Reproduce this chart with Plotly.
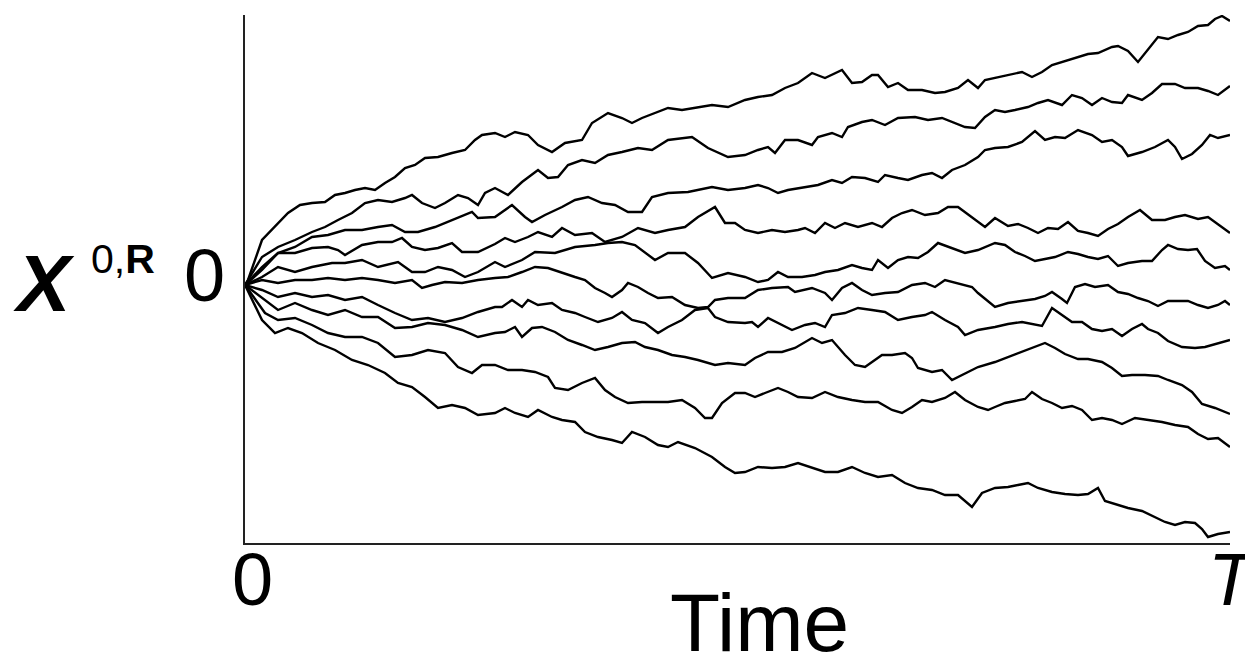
import plotly.graph_objects as go

# Each path: list of [time step, value]; T corresponds to step 985
path_a = [[0,0],[3,0.05],[17,0.45],[30,0.58],[43,0.72],[55,0.80],[67,0.82],[80,0.83],[90,0.90],[100,0.92],
          [110,0.95],[120,0.97],[130,0.95],[140,1.02],[150,1.08],[160,1.17],[170,1.20],[180,1.27],[193,1.28],[207,1.32],
          [220,1.35],[230,1.45],[237,1.50],[250,1.52],[260,1.48],[270,1.53],[283,1.50],[293,1.40],[307,1.33],[320,1.42],
          [337,1.45],[347,1.62],[363,1.72],[377,1.67],[387,1.62],[397,1.67],[410,1.72],[423,1.77],[437,1.75],[450,1.77],
          [467,1.80],[483,1.78],[500,1.85],[513,1.88],[527,1.90],[540,1.97],[553,2.02],[567,2.12],[580,2.07],[597,2.15],
          [607,2.02],[617,2.03],[627,2.10],[633,2.10],[643,1.98],[653,2.02],[663,1.95],[677,1.95],[690,1.92],[700,1.93],
          [713,1.97],[723,2.05],[733,1.97],[740,2.05],[750,2.07],[763,2.10],[777,2.13],[787,2.08],[797,2.13],[807,2.20],
          [820,2.24],[830,2.27],[843,2.31],[853,2.32],[867,2.38],[873,2.39],[883,2.34],[893,2.23],[903,2.36],[913,2.48],
          [923,2.46],[933,2.50],[943,2.53],[953,2.59],[963,2.60],[970,2.66],[977,2.69],[985,2.64]]

path_b = [[0,0],[17,0.28],[33,0.38],[50,0.45],[67,0.53],[80,0.58],[93,0.65],[107,0.72],[120,0.82],[133,0.85],
          [147,0.83],[160,0.87],[167,0.90],[177,0.82],[190,0.77],[200,0.82],[213,0.90],[223,0.87],[233,0.80],[240,0.92],
          [250,0.97],[263,0.90],[277,1.03],[293,1.15],[303,1.07],[313,1.08],[323,1.20],[337,1.25],[350,1.22],[363,1.30],
          [377,1.33],[393,1.37],[407,1.35],[423,1.45],[447,1.48],[463,1.37],[483,1.28],[500,1.30],[513,1.35],[523,1.38],
          [530,1.32],[540,1.45],[553,1.45],[567,1.40],[573,1.48],[587,1.52],[597,1.48],[603,1.58],[617,1.63],[627,1.65],
          [640,1.60],[653,1.67],[670,1.68],[683,1.65],[697,1.67],[710,1.62],[720,1.58],[730,1.57],[740,1.68],[750,1.75],
          [760,1.73],[770,1.75],[783,1.78],[793,1.82],[803,1.85],[817,1.80],[827,1.90],[837,1.87],[847,1.80],[857,1.87],
          [867,1.83],[877,1.82],[883,1.90],[897,1.85],[907,1.92],[917,2.01],[930,2.01],[940,1.97],[953,1.97],[963,1.94],
          [973,1.90],[985,1.99]]

path_c = [[0,0],[17,0.18],[33,0.32],[50,0.38],[67,0.48],[83,0.50],[100,0.55],[117,0.55],[133,0.58],[147,0.60],
          [160,0.53],[173,0.53],[190,0.58],[207,0.65],[227,0.73],[233,0.67],[250,0.68],[267,0.80],[280,0.68],[287,0.63],
          [300,0.70],[317,0.78],[330,0.85],[343,0.88],[357,0.82],[370,0.80],[383,0.73],[397,0.73],[407,0.88],[423,0.92],
          [443,0.93],[467,0.98],[483,0.95],[500,0.97],[513,1.00],[523,0.97],[533,0.92],[543,0.95],[560,0.98],[573,1.00],
          [587,1.05],[597,1.02],[607,1.08],[620,1.07],[633,1.03],[640,1.10],[653,1.07],[663,1.05],[677,1.10],[687,1.12],
          [697,1.07],[707,1.15],[720,1.20],[733,1.28],[740,1.35],[750,1.37],[763,1.38],[777,1.43],[790,1.54],[800,1.45],
          [810,1.48],[820,1.47],[833,1.55],[847,1.50],[857,1.43],[867,1.45],[877,1.38],[883,1.29],[897,1.33],[910,1.38],
          [923,1.45],[930,1.38],[937,1.26],[947,1.31],[957,1.40],[965,1.50],[973,1.47],[985,1.50]]

path_d = [[0,0],[17,0.15],[33,0.32],[50,0.32],[67,0.37],[83,0.38],[93,0.35],[100,0.30],[117,0.40],[133,0.43],
          [147,0.43],[157,0.47],[167,0.38],[180,0.35],[193,0.37],[207,0.42],[217,0.33],[233,0.33],[250,0.41],[260,0.47],
          [270,0.43],[283,0.48],[293,0.53],[307,0.48],[317,0.57],[330,0.50],[347,0.52],[360,0.43],[377,0.48],[393,0.57],
          [410,0.52],[423,0.55],[440,0.58],[453,0.68],[470,0.78],[480,0.62],[490,0.62],[500,0.55],[513,0.52],[527,0.55],
          [540,0.53],[553,0.55],[560,0.57],[570,0.52],[580,0.62],[590,0.57],[600,0.62],[613,0.58],[627,0.62],[637,0.58],
          [647,0.67],[657,0.72],[667,0.75],[680,0.70],[693,0.72],[703,0.78],[713,0.78],[727,0.68],[740,0.58],[750,0.67],
          [763,0.59],[773,0.61],[783,0.57],[793,0.52],[803,0.57],[813,0.56],[823,0.63],[833,0.54],[843,0.52],[853,0.49],
          [863,0.56],[873,0.61],[883,0.68],[895,0.75],[907,0.65],[920,0.65],[930,0.68],[940,0.70],[953,0.66],[963,0.68],
          [973,0.61],[985,0.52]]

path_e = [[0,0],[17,0.08],[33,0.18],[50,0.13],[67,0.18],[87,0.22],[100,0.22],[117,0.25],[133,0.18],[153,0.23],
          [167,0.13],[180,0.13],[193,0.18],[207,0.15],[220,0.08],[233,0.13],[250,0.23],[260,0.18],[277,0.25],[290,0.33],
          [310,0.32],[330,0.38],[350,0.40],[363,0.42],[377,0.43],[390,0.40],[410,0.25],[423,0.32],[440,0.32],[453,0.22],
          [467,0.07],[483,0.12],[500,0.08],[513,0.03],[523,0.05],[533,0.13],[543,0.08],[557,0.08],[570,0.10],[580,0.13],
          [593,0.15],[607,0.20],[617,0.17],[627,0.15],[633,0.25],[643,0.17],[653,0.25],[663,0.28],[673,0.27],[683,0.33],
          [693,0.42],[707,0.37],[720,0.32],[733,0.35],[750,0.42],[760,0.40],[770,0.33],[780,0.29],[790,0.24],[800,0.26],
          [810,0.28],[823,0.33],[833,0.31],[843,0.28],[853,0.26],[863,0.29],[873,0.19],[883,0.22],[897,0.24],[907,0.24],
          [917,0.35],[923,0.40],[933,0.36],[943,0.35],[952,0.36],[960,0.24],[970,0.17],[980,0.19],[985,0.15]]

path_f = [[0,0],[17,0.05],[33,0.02],[50,0.05],[67,0.05],[83,0.07],[100,0.05],[117,0.07],[133,0.05],[150,0.02],
          [167,0.05],[177,-0.03],[187,0.00],[200,0.03],[217,0.02],[233,0.05],[250,0.07],[263,0.08],[277,0.13],[290,0.18],
          [303,0.17],[317,0.12],[330,0.08],[340,0.05],[350,-0.03],[360,-0.08],[367,-0.12],[377,-0.05],[383,0.02],[393,-0.02],
          [403,-0.08],[413,-0.13],[427,-0.12],[440,-0.20],[453,-0.23],[463,-0.22],[470,-0.15],[483,-0.13],[500,-0.13],[513,-0.05],
          [527,-0.03],[543,-0.02],[550,-0.07],[567,-0.03],[580,-0.08],[587,-0.15],[597,-0.03],[607,0.02],[617,-0.05],[627,-0.10],
          [640,-0.08],[653,-0.07],[667,0.00],[680,0.02],[690,-0.02],[700,0.05],[713,0.02],[727,-0.02],[733,-0.08],[750,-0.22],
          [763,-0.18],[777,-0.16],[790,-0.14],[800,-0.11],[807,-0.07],[817,-0.14],[822,-0.18],[830,-0.02],[840,0.01],[850,-0.02],
          [863,0.00],[873,-0.07],[883,-0.09],[893,-0.13],[903,-0.16],[913,-0.21],[923,-0.16],[933,-0.16],[943,-0.16],[953,-0.20],
          [963,-0.23],[973,-0.20],[980,-0.16],[985,-0.20]]

path_g = [[0,0],[17,-0.05],[33,-0.12],[50,-0.08],[67,-0.12],[83,-0.10],[100,-0.15],[117,-0.12],[133,-0.20],[150,-0.28],
          [167,-0.35],[183,-0.33],[200,-0.37],[217,-0.33],[233,-0.27],[250,-0.22],[257,-0.22],[267,-0.15],[277,-0.22],[283,-0.15],
          [293,-0.20],[307,-0.18],[317,-0.25],[330,-0.28],[340,-0.32],[353,-0.37],[367,-0.33],[377,-0.27],[387,-0.35],[400,-0.38],
          [413,-0.48],[423,-0.42],[437,-0.35],[450,-0.25],[463,-0.23],[470,-0.32],[483,-0.37],[500,-0.38],[507,-0.37],[513,-0.42],
          [523,-0.33],[533,-0.38],[547,-0.45],[560,-0.40],[570,-0.38],[580,-0.42],[587,-0.30],[600,-0.28],[613,-0.23],[627,-0.25],
          [640,-0.27],[653,-0.35],[667,-0.32],[680,-0.30],[687,-0.27],[700,-0.35],[713,-0.42],[720,-0.50],[733,-0.45],[750,-0.42],
          [763,-0.39],[777,-0.37],[787,-0.39],[797,-0.41],[807,-0.23],[817,-0.30],[827,-0.37],[837,-0.37],[847,-0.44],[857,-0.46],
          [867,-0.44],[877,-0.51],[887,-0.44],[897,-0.39],[903,-0.44],[913,-0.48],[923,-0.56],[937,-0.62],[950,-0.63],[960,-0.62],
          [973,-0.58],[985,-0.55]]

path_h = [[0,0],[20,-0.15],[33,-0.25],[50,-0.18],[67,-0.25],[83,-0.30],[100,-0.25],[117,-0.32],[133,-0.32],[150,-0.43],
          [167,-0.42],[183,-0.38],[200,-0.40],[217,-0.45],[233,-0.52],[250,-0.48],[260,-0.47],[270,-0.42],[277,-0.52],[287,-0.43],
          [297,-0.42],[310,-0.47],[323,-0.55],[337,-0.60],[350,-0.65],[363,-0.62],[377,-0.58],[390,-0.57],[400,-0.62],[413,-0.65],
          [427,-0.70],[440,-0.72],[453,-0.75],[470,-0.80],[483,-0.78],[500,-0.80],[510,-0.73],[523,-0.67],[537,-0.67],[550,-0.63],
          [560,-0.57],[567,-0.53],[577,-0.58],[587,-0.55],[600,-0.70],[610,-0.80],[620,-0.82],[627,-0.77],[637,-0.70],[647,-0.70],
          [660,-0.68],[667,-0.73],[673,-0.83],[687,-0.87],[697,-0.85],[707,-0.95],[717,-0.90],[733,-0.82],[750,-0.77],[763,-0.72],
          [777,-0.67],[790,-0.62],[800,-0.58],[810,-0.63],[820,-0.69],[833,-0.74],[843,-0.74],[857,-0.77],[867,-0.83],[877,-0.91],
          [887,-0.90],[900,-0.90],[913,-0.91],[923,-0.95],[937,-1.00],[947,-1.07],[957,-1.19],[970,-1.23],[985,-1.29]]

path_i = [[0,0],[20,-0.28],[33,-0.35],[50,-0.33],[67,-0.40],[83,-0.48],[100,-0.52],[117,-0.52],[133,-0.58],[150,-0.72],
          [167,-0.70],[183,-0.65],[200,-0.68],[213,-0.82],[227,-0.88],[237,-0.80],[250,-0.80],[263,-0.85],[277,-0.85],[290,-0.87],
          [303,-0.92],[310,-1.03],[323,-1.05],[337,-0.98],[350,-0.93],[360,-1.05],[370,-1.12],[383,-1.18],[397,-1.17],[410,-1.17],
          [423,-1.17],[437,-1.15],[450,-1.23],[460,-1.33],[467,-1.33],[477,-1.18],[490,-1.08],[500,-1.08],[510,-1.12],[520,-1.08],
          [533,-1.03],[543,-1.07],[553,-1.12],[567,-1.13],[580,-1.07],[593,-1.12],[607,-1.15],[620,-1.17],[633,-1.17],[647,-1.25],
          [657,-1.28],[667,-1.22],[677,-1.15],[687,-1.17],[700,-1.13],[710,-1.07],[720,-1.15],[733,-1.22],[743,-1.25],[750,-1.22],
          [760,-1.18],[770,-1.16],[780,-1.14],[787,-1.07],[797,-1.14],[807,-1.18],[817,-1.23],[827,-1.21],[837,-1.25],[847,-1.35],
          [857,-1.33],[867,-1.35],[877,-1.39],[890,-1.33],[903,-1.35],[917,-1.37],[930,-1.40],[943,-1.42],[953,-1.49],[963,-1.54],
          [973,-1.53],[985,-1.62]]

path_j = [[0,0],[17,-0.35],[30,-0.48],[43,-0.43],[57,-0.48],[73,-0.58],[90,-0.65],[107,-0.75],[123,-0.80],[140,-0.88],
          [153,-0.98],[167,-1.02],[180,-1.12],[193,-1.23],[207,-1.20],[220,-1.23],[233,-1.30],[250,-1.28],[260,-1.23],[270,-1.28],
          [283,-1.32],[293,-1.25],[307,-1.32],[317,-1.35],[330,-1.37],[340,-1.47],[353,-1.52],[367,-1.55],[377,-1.58],[387,-1.47],
          [400,-1.52],[413,-1.60],[423,-1.62],[433,-1.57],[450,-1.63],[467,-1.72],[480,-1.82],[490,-1.88],[500,-1.87],[513,-1.82],
          [527,-1.83],[540,-1.82],[553,-1.78],[567,-1.83],[580,-1.87],[593,-1.87],[607,-1.82],[620,-1.88],[633,-1.92],[647,-1.90],
          [660,-1.98],[673,-2.03],[687,-2.05],[700,-2.10],[713,-2.10],[727,-2.22],[737,-2.08],[750,-2.03],[763,-2.02],[773,-2.00],
          [783,-1.98],[793,-2.03],[807,-2.07],[820,-2.09],[833,-2.10],[843,-2.09],[853,-2.03],[860,-2.16],[870,-2.19],[883,-2.23],
          [897,-2.26],[907,-2.31],[920,-2.37],[930,-2.40],[940,-2.37],[950,-2.38],[957,-2.44],[963,-2.52],[973,-2.49],[985,-2.47]]

paths = [path_a, path_b, path_c, path_d, path_e, path_f, path_g, path_h, path_i, path_j]

T_END = 985
x_range = [0, T_END]
y_range = [-2.58, 2.70]

FONT = "Liberation Sans, Arial, sans-serif"

fig = go.Figure()
for p in paths:
    fig.add_trace(go.Scatter(
        x=[pt[0] for pt in p], y=[pt[1] for pt in p],
        mode="lines", line=dict(color="black", width=2.4),
        hoverinfo="skip", showlegend=False))

# page body has an 8px default margin; the figure is sized to fill the rest of the window
fig.update_layout(
    width=1245, height=652,
    margin=dict(l=237, r=23, t=7, b=117),
    paper_bgcolor="white", plot_bgcolor="white",
    xaxis=dict(range=x_range, showgrid=False, zeroline=False, showticklabels=False,
               ticks="", showline=True, linecolor="#222", linewidth=2),
    yaxis=dict(range=y_range, showgrid=False, zeroline=False, showticklabels=False,
               ticks="", showline=True, linecolor="#222", linewidth=2),
    annotations=[
        dict(text="0", xref="paper", yref="paper", x=0.008, y=-0.070, showarrow=False,
             xanchor="center", yanchor="middle", font=dict(family=FONT, size=74, color="black")),
        dict(text="<i>T</i>", xref="paper", yref="paper", x=1.0035, y=-0.070, showarrow=False,
             xanchor="center", yanchor="middle", font=dict(family=FONT, size=74, color="black")),
        dict(text="Time", xref="paper", yref="paper", x=0.522, y=-0.150, showarrow=False,
             xanchor="center", yanchor="middle", font=dict(family=FONT, size=82, color="black")),
        dict(text="0", xref="paper", yref="paper", x=-0.041, y=0.506, showarrow=False,
             xanchor="center", yanchor="middle", font=dict(family=FONT, size=74, color="black")),
        dict(text="<b><i>X</i></b>", xref="paper", yref="paper", x=-0.204, y=0.492, showarrow=False,
             xanchor="center", yanchor="middle", font=dict(family=FONT, size=80, color="black")),
        dict(text="0,<b>R</b>", xref="paper", yref="paper", x=-0.124, y=0.537, showarrow=False,
             xanchor="center", yanchor="middle", font=dict(family=FONT, size=41, color="black")),
    ],
)

fig.write_html("out.html")
